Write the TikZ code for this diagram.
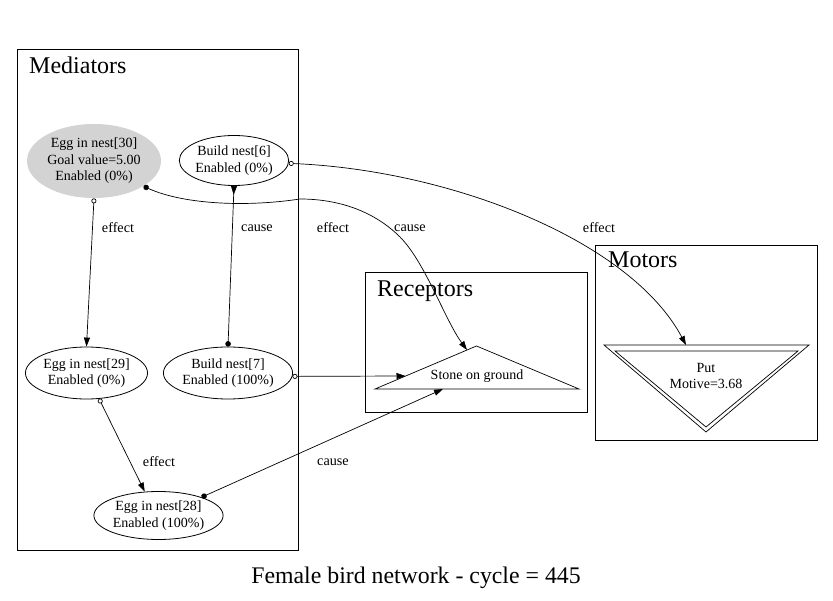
\documentclass[tikz,border=0pt]{standalone}
\usepackage{fontspec}
\setmainfont{Liberation Serif}
\usetikzlibrary{arrows.meta,shapes.geometric}
\definecolor{lgray}{RGB}{211,211,211}
\begin{document}
\begin{tikzpicture}[x=1pt,y=-1pt,
  ell/.style={ellipse,draw,line width=0.8pt,inner sep=0pt,align=center,font=\fontsize{14}{16.5}\selectfont},
  cluster/.style={draw,line width=0.9pt},
  ctitle/.style={anchor=base west,inner sep=0pt,font=\fontsize{24}{27}\selectfont},
  lbl/.style={inner sep=0pt,font=\fontsize{14.2}{16}\selectfont},
  edge/.style={line width=0.7pt},
  hd/.tip={Triangle[length=9pt,width=6pt]},
  rhd/.tip={Triangle[reversed,length=9pt,width=6pt]},
  od/.tip={Circle[open,length=5pt,width=5pt]},
  fd/.tip={Circle[length=5.5pt,width=5.5pt]}
]
\useasboundingbox (0,0) rectangle (833,601);
\fill[white] (0,0) rectangle (833,601);

% clusters
\draw[cluster] (17,49) rectangle (298,550);
\draw[cluster] (365.5,272) rectangle (587,412);
\draw[cluster] (595.5,245.5) rectangle (817,440);
\node[ctitle] (medlbl) at (29,74) {Mediators};
\node[ctitle] (reclbl) at (377,297) {Receptors};
\node[ctitle] (motlbl) at (608,268) {Motors};

% mediator nodes
\node[ell,draw=none,fill=lgray,minimum width=134pt,minimum height=74pt] (egg30) at (94,161) {Egg in nest[30]\\Goal value=5.00\\Enabled (0\%)};
\node[ell,minimum width=108pt,minimum height=50pt] (build6) at (234,160.5) {Build nest[6]\\Enabled (0\%)};
\node[ell,minimum width=121pt,minimum height=52pt] (egg29) at (86.5,373) {Egg in nest[29]\\Enabled (0\%)};
\node[ell,minimum width=128pt,minimum height=52pt] (build7) at (228,373) {Build nest[7]\\Enabled (100\%)};
\node[ell,minimum width=125pt,minimum height=48pt] (egg28) at (158.5,515.5) {Egg in nest[28]\\Enabled (100\%)};

% receptor triangle
\draw[edge] (375,389) -- (476.5,346) -- (579,389) -- cycle;
\node[inner sep=0pt,font=\fontsize{14}{16}\selectfont] (stone) at (477,376) {Stone on ground};
\coordinate (stoneP) at (467,350);
\coordinate (stoneQ) at (405.5,376);
\coordinate (stoneR) at (443,389);

% motor inverted double triangle
\draw[edge] (604,345) -- (809,345) -- (706,432) -- cycle;
\draw[edge] (615,351) -- (798,351) -- (706,427) -- cycle;
\node[inner sep=0pt,align=center,font=\fontsize{14}{16.5}\selectfont] (put) at (706,376) {Put\\Motive=3.68};
\coordinate (putP) at (686,345);

% connectors
\draw[edge,od-hd] (egg30.south) -- (egg29.north);
\draw[edge,rhd-fd] (build6.south) -- (build7.north);
\draw[edge,fd-hd] (egg30.-27) .. controls (180,203) and (240,208) .. (300,199)
   .. controls (340,199) and (375,212) .. (400,237)
   .. controls (425,262) and (445,320) .. (stoneP);
\draw[edge,od-hd] (build6.-3) .. controls (450,170) and (630,240) .. (putP);
\draw[edge,od-hd] (build7.-3) -- (stoneQ);
\draw[edge,od-hd] (egg29.-64) -- (egg28.120);
\draw[edge,fd-hd] (egg28.23) -- (stoneR);

% edge labels
\node[lbl] (l1) at (118,228) {effect};
\node[lbl] (l2) at (257,228) {cause};
\node[lbl] (l3) at (333,228) {effect};
\node[lbl] (l4) at (410,228) {cause};
\node[lbl] (l5) at (599,228) {effect};
\node[lbl] (l6) at (159,462) {effect};
\node[lbl] (l7) at (333,462) {cause};

% title
\node[anchor=base,inner sep=0pt,font=\fontsize{23.8}{27}\selectfont] (title) at (416,583) {Female bird network - cycle = 445};
\end{tikzpicture}
\end{document}
